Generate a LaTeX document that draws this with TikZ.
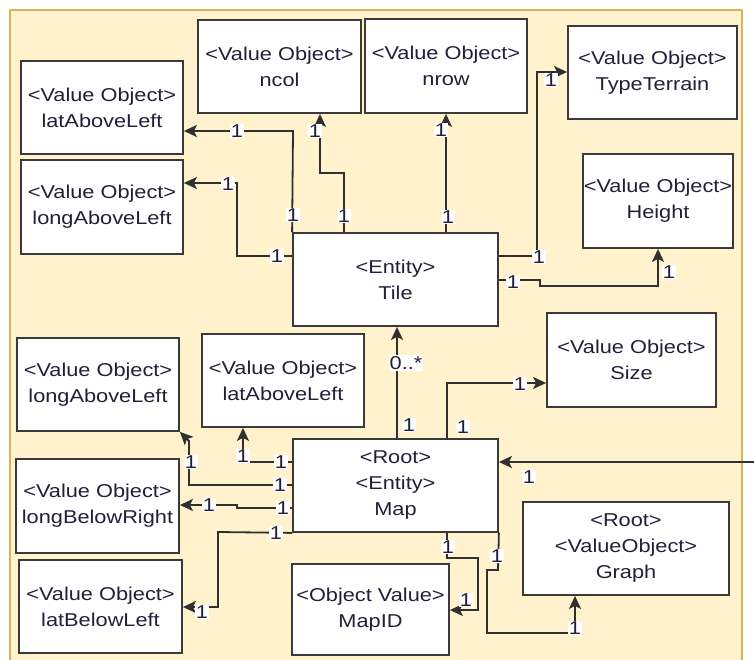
\documentclass[tikz,border=0pt]{standalone}
\usepackage{fontspec}
\setmainfont{Liberation Sans}[FakeStretch=1.17]
\usetikzlibrary{arrows.meta}
\definecolor{bgc}{HTML}{FFF2CC}
\definecolor{bordc}{HTML}{D6B656}
\definecolor{boxc}{HTML}{3A3A3A}
\definecolor{linec}{HTML}{303030}
\definecolor{txtc}{HTML}{20203A}
\newcommand\dgfont{\fontsize{18.6}{26}\selectfont}
\begin{document}
\begin{tikzpicture}[x=1pt,y=-1pt,
  box/.style={draw=boxc, line width=1.8pt, fill=white, inner sep=0pt, align=center, font=\dgfont, text=txtc},
  con/.style={draw=linec, line width=1.8pt},
  arr/.style={con, -{Stealth[length=13pt,width=12pt,inset=3pt]}},
  mult/.style={fill=white, inner sep=1pt, font=\dgfont, text=txtc}]
\useasboundingbox (0,0) rectangle (754,659);
\fill[bgc] (10,10) rectangle (742,670);
\draw[bordc, line width=1.5pt] (10,670) -- (10,10) -- (742,10) -- (742,670);

% boxes
\node[box, minimum width=163pt, minimum height=93pt] (ncol) at (279.5,66.5) {<Value Object>\\ncol};
\node[box, minimum width=162pt, minimum height=94pt] (nrow) at (446,66) {<Value Object>\\nrow};
\node[box, minimum width=169pt, minimum height=93pt] (tt) at (652.5,72.5) {<Value Object>\\TypeTerrain};
\node[box, minimum width=150pt, minimum height=94pt] (height) at (658,201) {<Value Object>\\Height};
\node[box, minimum width=162pt, minimum height=93pt] (lal1) at (102,107.5) {<Value Object>\\latAboveLeft};
\node[box, minimum width=162pt, minimum height=94pt] (loal1) at (102,207) {<Value Object>\\longAboveLeft};
\node[box, minimum width=205pt, minimum height=93pt] (tile) at (395.5,279.5) {<Entity>\\Tile};
\node[box, minimum width=169pt, minimum height=94pt] (size) at (631.5,360) {<Value Object>\\Size};
\node[box, minimum width=162pt, minimum height=93pt] (loal2) at (98,384.5) {<Value Object>\\longAboveLeft};
\node[box, minimum width=162pt, minimum height=93pt] (lal2) at (283,380.5) {<Value Object>\\latAboveLeft};
\node[box, minimum width=205pt, minimum height=93pt] (map) at (395.5,485.5) {<Root>\\<Entity>\\Map};
\node[box, minimum width=163pt, minimum height=94pt] (lbr) at (97.5,506) {<Value Object>\\longBelowRight};
\node[box, minimum width=163pt, minimum height=93pt] (lbleft) at (100.5,606.5) {<Value Object>\\latBelowLeft};
\node[box, minimum width=157pt, minimum height=91pt] (mapid) at (370.5,609.5) {<Object Value>\\MapID};
\node[box, minimum width=206pt, minimum height=93pt] (graph) at (626,548.5) {<Root>\\<ValueObject>\\Graph};

% Tile connectors
\draw[arr] (tile.north west) -- (293,131) -- (lal1.east |- 0,131);
\node[mult] (m1) at (237,131) {1};
\node[mult] (m2) at (293,215) {1};

\draw[arr] (tile.west |- 0,256) -- (237,256) -- (237,183) -- (loal1.east |- 0,183);
\node[mult] (m3) at (228,184) {1};
\node[mult] (m4) at (277,256) {1};

\draw[arr] (tile.north -| 344,0) -- (344,173) -- (320,173) -- (ncol.south -| 320,0);
\node[mult] (m5) at (315,131) {1};
\node[mult] (m6) at (344,216) {1};

\draw[arr] (tile.north -| 446,0) -- (nrow.south -| 446,0);
\node[mult] (m7) at (441,130) {1};
\node[mult] (m8) at (448,217) {1};

\draw[arr] (tile.east |- 0,256) -- (537,256) -- (537,72) -- (tt.west |- 0,72);
\node[mult] (m9) at (539,257) {1};
\node[mult] (m10) at (551,80) {1};

\draw[arr] (tile.east |- 0,280) -- (540,280) -- (540,286) -- (658,286) -- (height.south -| 658,0);
\node[mult] (m11) at (513,282) {1};
\node[mult] (m12) at (669,272) {1};

% Map connectors
\draw[arr] (map.north -| 397,0) -- (tile.south -| 397,0);
\node[mult] (m13) at (406,363) {0..*};
\node[mult] (m14) at (409,425) {1};

\draw[arr] (map.north -| 447,0) -- (447,383) -- (size.west |- 0,383);
\node[mult] (m15) at (520,384) {1};
\node[mult] (m16) at (463,427) {1};

\coordinate (ext) at (760,462);
\draw[arr] (ext) -- (map.east |- 0,462);
\node[mult] (m17) at (529,477) {1};

\draw[arr] (map.west |- 0,462) -- (243,462) -- (lal2.south -| 243,0);
\node[mult] (m18) at (243,456) {1};
\node[mult] (m19) at (281,462) {1};

\draw[arr] (map.west |- 0,485) -- (189,485) -- (189,441) -- (loal2.south east);
\node[mult] (m20) at (191,462) {1};
\node[mult] (m21) at (280,485) {1};

\draw[arr] (map.west |- 0,508) -- (237,508) -- (237,505) -- (lbr.east |- 0,505);
\node[mult] (m22) at (209,505) {1};
\node[mult] (m23) at (283,508) {1};

\draw[arr] (map.south west) -- (218,532) -- (218,607) -- (lbleft.east |- 0,607);
\node[mult] (m24) at (276,533) {1};
\node[mult] (m25) at (202,612) {1};

\draw[arr] (map.south -| 447,0) -- (447,558) -- (478,558) -- (478,610) -- (mapid.east |- 0,610);
\node[mult] (m26) at (448,547) {1};
\node[mult] (m27) at (466,600) {1};

\draw[arr] (map.south east) -- (498,570) -- (487,570) -- (487,633) -- (575,633) -- (graph.south -| 575,0);
\node[mult] (m28) at (497,556) {1};
\node[mult] (m29) at (575,628) {1};
\end{tikzpicture}
\end{document}
